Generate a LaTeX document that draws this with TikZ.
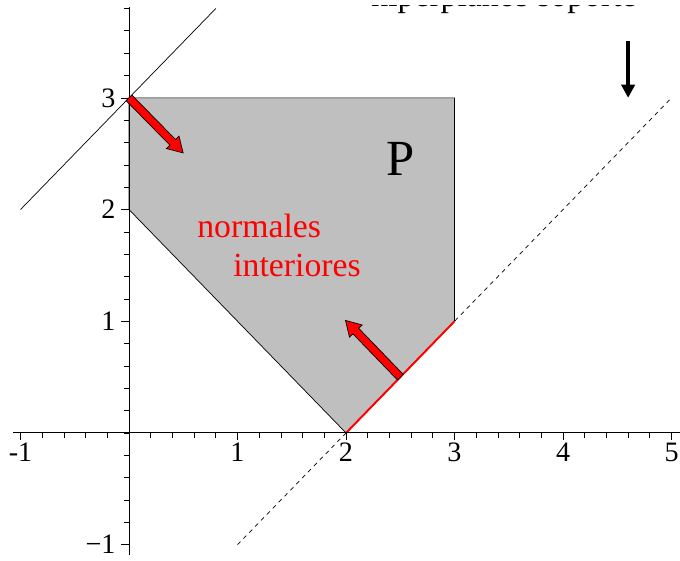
\documentclass[tikz,border=0pt]{standalone}
\usepackage{fontspec}
\setmainfont{Liberation Serif}
\usetikzlibrary{arrows.meta}
\tikzset{axisline/.style={line width=0.7pt},tickmark/.style={line width=0.5pt},
  numlabel/.style={font=\fontsize{20}{24}\selectfont,inner sep=0pt},
  redtext/.style={font=\fontsize{24}{28}\selectfont,text=red,inner sep=0pt,anchor=base west},
  support/.style={line width=0.5pt},
  fatarrow/.style={fill=red,draw=black,line width=0.5pt,line join=miter}}
\newcommand{\normalarrow}[3]{%
  \begin{scope}[shift={#1},x=1cm,y=1cm,rotate=#2]
    \draw[fatarrow] (0,-0.1) -- (#3-0.37,-0.1) -- (#3-0.37,-0.22) -- (#3,0)
      -- (#3-0.37,0.22) -- (#3-0.37,0.1) -- (0,0.1) -- cycle;
  \end{scope}}

\begin{document}
\begin{tikzpicture}[x=2.7125cm,y=2.7925cm]
\clip (-1.189,-1.146) rectangle (5.078,3.876);
\fill[white] (-1.189,-1.146) rectangle (5.078,3.876);
% polygon P
\fill[black!25] (0,3) -- (3,3) -- (3,1) -- (2,0) -- (0,2) -- cycle;
\draw[line width=0.5pt] (3,1) -- (3,3) -- (0,3) -- (0,2) -- (2,0);
% supporting lines
\draw[support] (-1,2) -- (0.8,3.8);
\draw[support,dashed] (1,-1) -- (5,3);
\draw[red,line width=1.4pt] (2,0) -- (3,1);
% axes
\draw[axisline] (-1.07,0) -- (5.1,0);
\draw[axisline] (0,-1.095) -- (0,3.81);
\foreach \t in {-1,-0.8,...,5.01} \draw[tickmark] (\t,0) -- ++(0,-0.12cm);
\foreach \t in {-1,1,2,3,4,5} \draw[tickmark] (\t,0) -- ++(0,-0.18cm);
\foreach \t in {-1,-0.8,...,3.81} \draw[tickmark] (0,\t) -- ++(-0.12cm,0);
\foreach \t in {-1,1,2,3} \draw[tickmark] (0,\t) -- ++(-0.2cm,0);
\foreach \t/\s in {-1/-1,1/1,2/2,3/3,4/4,5/5}
  \node[numlabel,anchor=north] (x\t) at ([yshift=-0.25cm]\t,0) {\s};
\foreach \t/\s in {-1/−1,1/1,2/2,3/3}
  \node[numlabel,anchor=east] (y\t) at ([xshift=-0.33cm]0,\t) {\s};
% labels
\node[font=\fontsize{36}{40}\selectfont,inner sep=0pt,anchor=base west] (P) at (2.369,2.301) {P};
\node[redtext] (nor) at (0.627,1.746) {normales};
\node[redtext] (int) at (0.959,1.397) {interiores};
\begin{scope}
\clip (2,3.6) rectangle (5,3.83);
\node[font=\fontsize{24}{28}\selectfont,inner sep=0pt,anchor=base] (title) at (3.456,3.814) {hiperplanos soporte};
\end{scope}
% normals
\normalarrow{(0,3)}{-45.5}{1.93}
\normalarrow{(2.5,0.5)}{134}{1.97}
\draw[line width=0.1cm,-{Triangle[length=0.33cm,width=0.33cm]}] (4.6,3.51) -- (4.6,3.0);
\end{tikzpicture}
\end{document}
